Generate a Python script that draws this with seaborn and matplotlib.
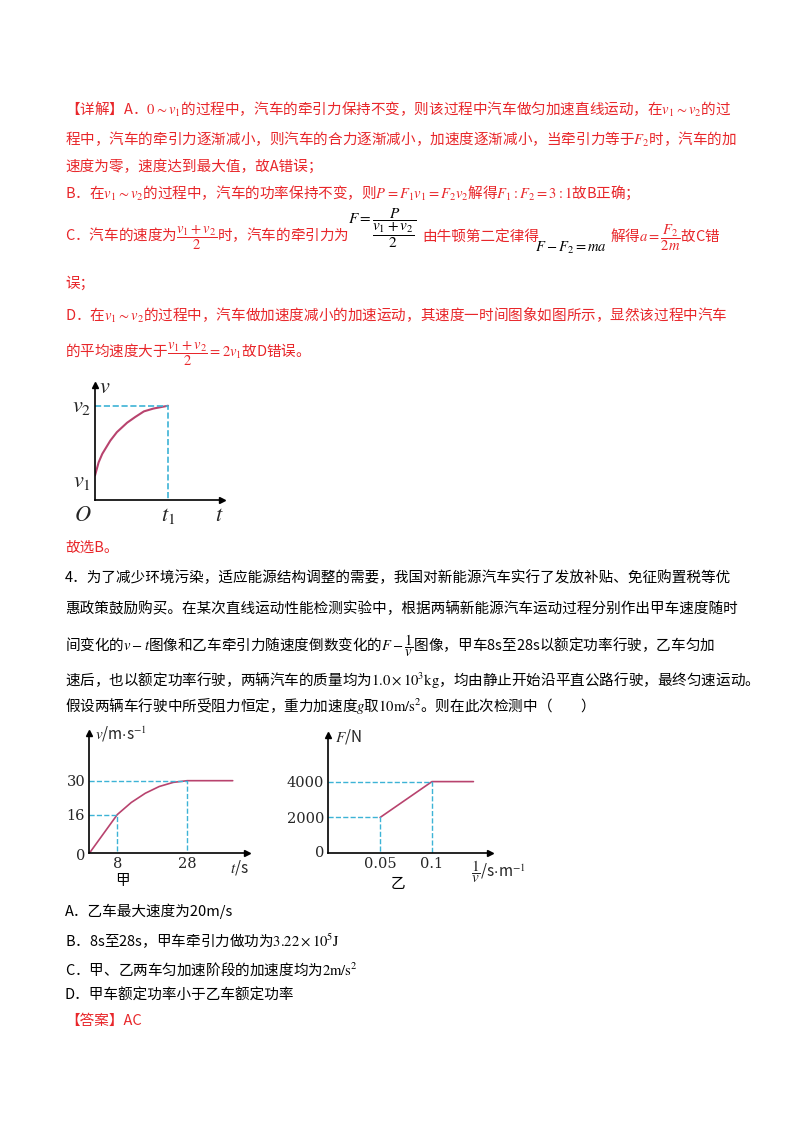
import matplotlib
matplotlib.use("Agg")
import matplotlib.pyplot as plt
import seaborn as sns
import pandas as pd

sns.set_theme(style="white")
plt.rcParams['font.family'] = ['Noto Sans CJK SC', 'DejaVu Sans']
plt.rcParams['mathtext.fontset'] = 'stix'

W, H = 800, 1132
RED = '#e8262a'
CURVE = '#b8436e'
DASH = '#3db3d6'

# 图1: v-t 曲线 (t1=1, v2=1)
t_a = [0, 0.05, 0.1, 0.21, 0.3, 0.44, 0.55, 0.67, 0.8, 1.0]
v_a = [0.26, 0.40, 0.49, 0.63, 0.72, 0.82, 0.88, 0.94, 0.97, 1.0]
v1_a = 0.26

# 甲: v-t
t_jia = [0, 8, 12, 16, 20, 24, 28, 41]
v_jia = [0, 16, 21, 24.8, 27.6, 29.3, 30, 30]

# 乙: F - 1/v
inv_v = [0.05, 0.1, 0.14]
F_yi = [2000, 4000, 4000]

fig = plt.figure(figsize=(W / 100, H / 100), dpi=100)
fig.patch.set_facecolor('white')


def txt(x, y, s, color='black', size=10.5, **kw):
    fig.text(x / W, 1 - y / H, s, color=color, fontsize=size, va='center', ha='left', **kw)


def make_ax(x0, y0, x1, y1, xmax, ymax):
    # x0,y0 = 原点像素; x1,y1 = 轴末端像素
    ax = fig.add_axes([x0 / W, 1 - y0 / H, (x1 - x0) / W, (y0 - y1) / H])
    ax.set_xlim(0, xmax)
    ax.set_ylim(0, ymax)
    ax.patch.set_alpha(0)
    for s in ['top', 'right']:
        ax.spines[s].set_visible(False)
    for s in ['left', 'bottom']:
        ax.spines[s].set_color('black')
        ax.spines[s].set_linewidth(1.2)
    ax.plot(1, 0, '>', color='black', ms=5, transform=ax.transAxes, clip_on=False)
    ax.plot(0, 1, '^', color='black', ms=5, transform=ax.transAxes, clip_on=False)
    ax.tick_params(length=0, labelsize=10.5, pad=3)
    ax.grid(False)
    return ax


# ---- 文字 (详解) ----
txt(65, 109, r'【详解】A．$0\sim v_1$的过程中，汽车的牵引力保持不变，则该过程中汽车做匀加速直线运动，在$v_1\sim v_2$的过', RED)
txt(65, 139, r'程中，汽车的牵引力逐渐减小，则汽车的合力逐渐减小，加速度逐渐减小，当牵引力等于$F_2$时，汽车的加', RED)
txt(65, 166, '速度为零，速度达到最大值，故A错误；', RED)
txt(65, 193, r'B．在$v_1\sim v_2$的过程中，汽车的功率保持不变，则$P=F_1v_1=F_2v_2$解得$F_1:F_2=3:1$故B正确；', RED)
txt(65, 238, r'C．汽车的速度为$\dfrac{v_1+v_2}{2}$时，汽车的牵引力为', RED)
txt(348, 228, r'$F=\dfrac{P}{\dfrac{v_1+v_2}{2}}$', 'black', 11)
txt(422, 238, '由牛顿第二定律得', RED)
txt(535, 248, r'$F-F_2=ma$', 'black')
txt(610, 238, r'解得$a=\dfrac{F_2}{2m}$故C错', RED)
txt(65, 283, '误；', RED)
txt(65, 315, r'D．在$v_1\sim v_2$的过程中，汽车做加速度减小的加速运动，其速度一时间图象如图所示，显然该过程中汽车', RED)
txt(65, 354, r'的平均速度大于$\dfrac{v_1+v_2}{2}=2v_1$故D错误。', RED)

# ---- 图1 ----
ax1 = make_ax(95, 500, 222, 385, 1.74, 1.22)
sns.lineplot(x=t_a, y=v_a, ax=ax1, color=CURVE, lw=1.5, sort=False)
ax1.plot([0, 1, 1], [1, 1, 0], ls='--', color=DASH, lw=1.2)
ax1.set_xticks([])
ax1.set_yticks([])
ax1.text(-0.05, 1.0, r'$v_2$', fontsize=16, ha='right', va='center')
ax1.text(-0.05, v1_a * 0.8, r'$v_1$', fontsize=16, ha='right', va='center')
ax1.text(-0.05, -0.03, r'$O$', fontsize=16, ha='right', va='top')
ax1.text(1, -0.03, r'$t_1$', fontsize=16, ha='center', va='top')
ax1.text(1.7, -0.03, r'$t$', fontsize=16, ha='center', va='top')
ax1.text(0.06, 1.2, r'$v$', fontsize=16, ha='left', va='center')

txt(65, 548, '故选B。', RED)

# ---- 题目 ----
txt(65, 578, '4．为了减少环境污染，适应能源结构调整的需要，我国对新能源汽车实行了发放补贴、免征购置税等优')
txt(65, 609, '惠政策鼓励购买。在某次直线运动性能检测实验中，根据两辆新能源汽车运动过程分别作出甲车速度随时')
txt(65, 646, r'间变化的$v-t$图像和乙车牵引力随速度倒数变化的$F-\dfrac{1}{v}$图像，甲车8s至28s以额定功率行驶，乙车匀加')
txt(65, 680, r'速后，也以额定功率行驶，两辆汽车的质量均为$1.0\times10^3\mathrm{kg}$，均由静止开始沿平直公路行驶，最终匀速运动。')
txt(65, 706, r'假设两辆车行驶中所受阻力恒定，重力加速度$g$取$10\mathrm{m/s^2}$。则在此次检测中（　　）')

# ---- 甲 ----
ax2 = make_ax(89.3, 853.3, 246.7, 733, 45, 49.7)
sns.lineplot(data=pd.DataFrame({'t': t_jia, 'v': v_jia}), x='t', y='v', ax=ax2,
             color=CURVE, lw=1.2, sort=False)
ax2.plot([0, 8, 8], [16, 16, 0], ls='--', color=DASH, lw=1)
ax2.plot([0, 28, 28], [30, 30, 0], ls='--', color=DASH, lw=1)
ax2.set_xticks([8, 28])
ax2.set_xticklabels(['8', '28'], family='DejaVu Serif')
ax2.set_yticks([16, 30])
ax2.set_yticklabels(['16', '30'], family='DejaVu Serif')
ax2.set_xlabel('')
ax2.set_ylabel('')
ax2.text(-1.2, -1, '0', ha='right', va='center', fontsize=10.5, family='DejaVu Serif')
ax2.text(43, -2, r'$t$/s', ha='center', va='top', fontsize=11)
ax2.text(1.5, 49, r'$v$/m$\cdot$s$^{-1}$', ha='left', va='center', fontsize=11)
txt(115, 881, '甲')

# ---- 乙 ----
ax3 = make_ax(328.3, 853.3, 490, 735, 0.156, 6600)
sns.lineplot(x=inv_v, y=F_yi, ax=ax3, color=CURVE, lw=1.2, sort=False)
ax3.plot([0, 0.05, 0.05], [2000, 2000, 0], ls='--', color=DASH, lw=1)
ax3.plot([0, 0.1, 0.1], [4000, 4000, 0], ls='--', color=DASH, lw=1)
ax3.set_xticks([0.05, 0.1])
ax3.set_xticklabels(['0.05', '0.1'], family='DejaVu Serif')
ax3.set_yticks([2000, 4000])
ax3.set_yticklabels(['2000', '4000'], family='DejaVu Serif')
ax3.text(-0.004, 0, '0', ha='right', va='center', fontsize=10.5, family='DejaVu Serif')
ax3.text(0.138, -300, r'$\dfrac{1}{v}$/s$\cdot$m$^{-1}$', ha='left', va='top', fontsize=11)
ax3.text(0.006, 6500, r'$F$/N', ha='left', va='center', fontsize=11)
txt(391, 884, '乙')

# ---- 选项 ----
txt(65, 911, 'A．乙车最大速度为20m/s')
txt(65, 941, r'B．8s至28s，甲车牵引力做功为$3.22\times10^5\mathrm{J}$')
txt(65, 969, r'C．甲、乙两车匀加速阶段的加速度均为$2\mathrm{m/s^2}$')
txt(65, 996, 'D．甲车额定功率小于乙车额定功率')
txt(65, 1021, '【答案】AC', RED)

fig.savefig('out.png', dpi=100, facecolor='white')
